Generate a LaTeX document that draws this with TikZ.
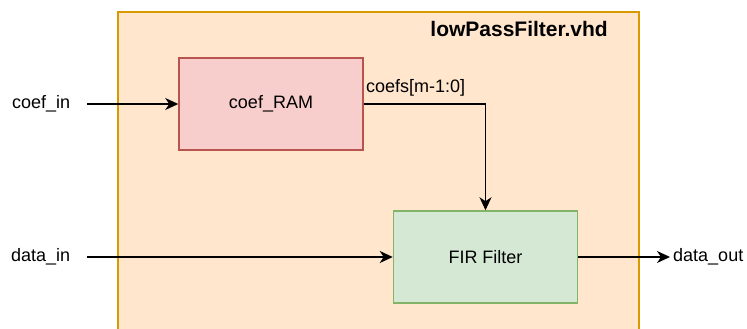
\documentclass[tikz,border=0pt]{standalone}
\usepackage{fontspec}
\setmainfont{Liberation Sans}
\usetikzlibrary{arrows.meta}
\definecolor{entityfill}{HTML}{FFE6CC}
\definecolor{entityline}{HTML}{D79B00}
\definecolor{ramfill}{HTML}{F8CECC}
\definecolor{ramline}{HTML}{B85450}
\definecolor{firfill}{HTML}{D5E8D4}
\definecolor{firline}{HTML}{82B366}
\tikzset{
  x=1pt, y=-1pt,
  block/.style={draw, line width=1.5pt, minimum width=184pt, minimum height=92pt, inner sep=0pt, font=\fontsize{18}{21}\selectfont},
  port/.style={inner sep=0pt, font=\fontsize{18}{21}\selectfont},
  wire/.style={line width=1.6pt, -{Stealth[length=13pt, width=12pt, inset=4pt]}},
}
\begin{document}
\begin{tikzpicture}
\useasboundingbox (0,0) rectangle (747,329);
\clip (0,0) rectangle (747,329);
% top-level entity
\draw[fill=entityfill, draw=entityline, line width=1.5pt] (118,12) rectangle (639,345);
\node[anchor=east, inner sep=0pt, font=\fontsize{21}{24}\bfseries\selectfont] (title) at (608,29) {lowPassFilter.vhd};
% internal blocks
\node[block, fill=ramfill, draw=ramline] (ram) at (271,104) {coef\_RAM};
\node[block, fill=firfill, draw=firline] (fir) at (485.5,257) {FIR Filter};
% ports
\node[port, anchor=west] (coefin) at (12,104) {coef\_in};
\node[port, anchor=west] (datain) at (11,257) {data\_in};
\node[port, anchor=west] (dataout) at (673,257) {data\_out};
\coordinate (cin) at (87,104);
\coordinate (din) at (87,257);
\coordinate (dout) at (670,257);
% connections
\draw[wire] (cin) -- (ram.west);
\draw[wire] (din) -- (fir.west);
\draw[wire] (fir.east) -- (dout);
\draw[wire] (ram.east) -| (fir.north);
\node[port, anchor=west] (coefs) at (366,88) {coefs[m-1:0]};
\end{tikzpicture}
\end{document}
